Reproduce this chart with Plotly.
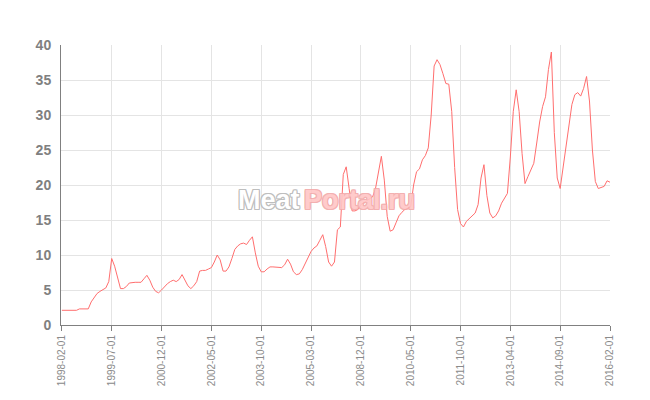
import plotly.graph_objects as go
import pandas as pd

# Category labels (monthly, with gaps in the source data)
seg1 = pd.period_range("1998-02", "2005-12", freq="M")
seg2 = pd.period_range("2008-05", "2012-05", freq="M")
seg3 = pd.period_range("2012-07", "2016-02", freq="M")
categories = [p.strftime("%Y-%m-01") for p in list(seg1) + list(seg2) + list(seg3)]

values = [
    2.1, 2.1, 2.1, 2.1, 2.1, 2.1, 2.3, 2.3, 2.3, 2.3,
    3.3, 3.9, 4.5, 4.8, 5.0, 5.3, 6.2, 9.5, 8.4, 6.8,
    5.2, 5.2, 5.5, 6.0, 6.1, 6.1, 6.1, 6.1, 6.6, 7.1,
    6.4, 5.4, 4.8, 4.6, 5.0, 5.5, 5.9, 6.2, 6.4, 6.2,
    6.5, 7.2, 6.4, 5.6, 5.2, 5.6, 6.2, 7.7, 7.8, 7.8,
    8.0, 8.2, 9.0, 10.0, 9.3, 7.7, 7.7, 8.3, 9.5, 10.8,
    11.3, 11.6, 11.7, 11.5, 12.1, 12.6, 10.3, 8.4, 7.6, 7.6,
    8.0, 8.3, 8.3, 8.3, 8.2, 8.2, 8.6, 9.4, 8.7, 7.6,
    7.2, 7.3, 7.9, 8.8, 9.6, 10.5, 11.0, 11.3, 12.1, 12.9,
    11.2, 9.0, 8.4, 9.0, 13.6, 14.0, 21.5, 22.6, 19.5, 16.3,
    16.3, 16.5, 17.2, 17.5, 17.8, 18.0, 18.3, 19.5, 22.0, 24.1,
    20.7, 15.5, 13.4, 13.6, 14.6, 15.6, 16.1, 16.5, 16.7, 16.9,
    20.0, 21.9, 22.3, 23.6, 24.2, 25.3, 30.0, 37.0, 37.9, 37.2,
    35.9, 34.5, 34.4, 30.5, 22.5, 16.5, 14.5, 14.0, 14.8, 15.2,
    15.6, 16.0, 17.2, 21.0, 22.9, 18.5, 16.0, 15.3, 15.6, 16.3,
    17.4, 18.2, 18.8, 24.0, 30.5, 33.6, 30.5, 24.5, 20.2, 21.2,
    22.1, 23.1, 26.0, 29.0, 31.2, 32.6, 36.5, 39.0, 27.5, 21.0,
    19.5, 22.5, 25.0, 28.5, 31.5, 32.9, 33.2, 32.7, 33.8, 35.5,
    32.0, 25.0, 20.5, 19.5, 19.6, 19.8, 20.6, 20.4,
]
assert len(values) == len(categories), (len(values), len(categories))

tick_labels = categories[::17]
y_ticks = [0, 5, 10, 15, 20, 25, 30, 35, 40]

fig = go.Figure()
fig.add_trace(go.Scatter(
    x=categories, y=values, mode="lines",
    line=dict(color="#ff6e6e", width=1),
    hoverinfo="x+y", showlegend=False,
))

# page body has an 8px default margin, so margins are shifted by 8px
fig.update_layout(
    width=650, height=400,
    margin=dict(l=53, r=48, t=37, b=83),
    paper_bgcolor="white", plot_bgcolor="white",
    font=dict(family="Liberation Sans, Arial, sans-serif", color="#808080"),
    xaxis=dict(
        type="category", automargin=False,
        categoryorder="array", categoryarray=categories,
        range=[-0.3, len(categories) - 1],
        tickmode="array", tickvals=tick_labels, ticktext=tick_labels,
        tickangle=-90, tickfont=dict(size=10, color="#8a8a8a"),
        ticks="outside", ticklen=5, tickcolor="#808080",
        showgrid=True, gridcolor="#e4e4e4", gridwidth=1,
        showline=True, linecolor="#808080", linewidth=1,
        zeroline=False,
    ),
    yaxis=dict(
        range=[0, 40], tickvals=y_ticks, automargin=False,
        tickfont=dict(size=14, color="#808080", weight="bold"),
        showgrid=True, gridcolor="#e4e4e4", gridwidth=1,
        showline=True, linecolor="#808080", linewidth=1,
        zeroline=False, ticks="", ticklabelstandoff=6,
    ),
)

outline_gray = ",".join(f"{dx}px {dy}px 0 #b8b8b8" for dx, dy in
                        [(1, 1), (-1, -1), (1, -1), (-1, 1), (0, 1), (0, -1), (1, 0), (-1, 0)])
outline_pink = ",".join(f"{dx}px {dy}px 0 #f2a9a9" for dx, dy in
                        [(1, 1), (-1, -1), (1, -1), (-1, 1), (0, 1), (0, -1), (1, 0), (-1, 0)])

fig.add_annotation(
    xref="paper", yref="paper", x=0.439, y=0.446,
    xanchor="right", yanchor="middle", showarrow=False,
    text="Meat", opacity=0.9,
    font=dict(family="Liberation Sans, Arial, sans-serif", size=27,
              color="#ffffff", weight="bold", shadow=outline_gray),
)
fig.add_annotation(
    xref="paper", yref="paper", x=0.439, y=0.446,
    xanchor="left", yanchor="middle", showarrow=False,
    text="Portal.ru", opacity=0.9,
    font=dict(family="Liberation Sans, Arial, sans-serif", size=27,
              color="#ffc6c6", weight="bold", shadow=outline_pink),
)

fig.write_html("out.html")
